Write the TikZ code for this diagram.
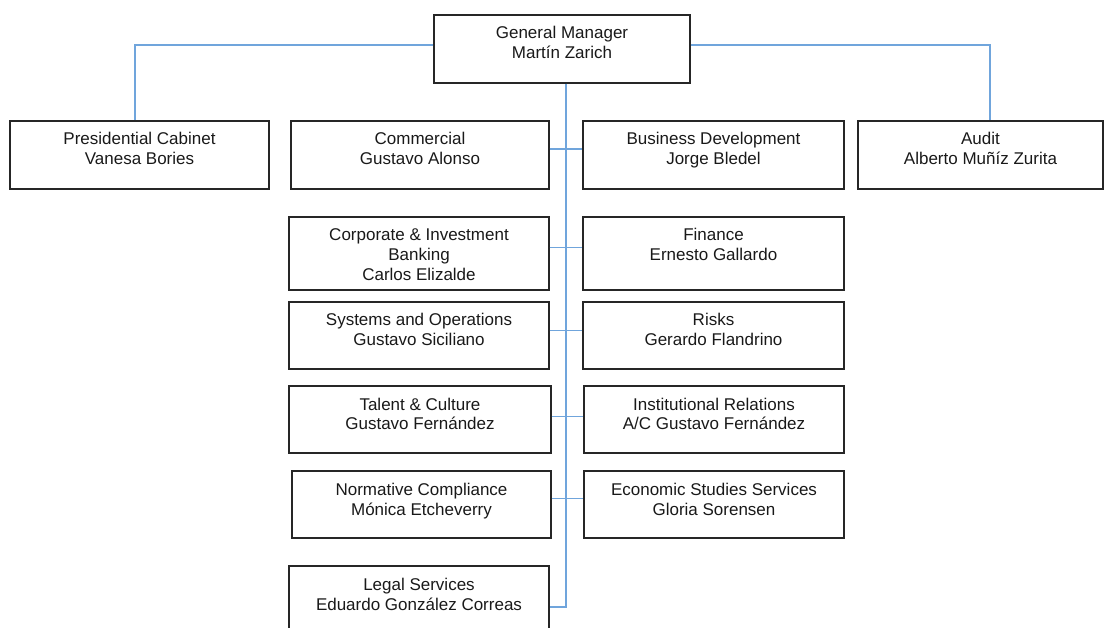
\documentclass[tikz,border=0pt]{standalone}
\usepackage{fontspec}
\setmainfont{Liberation Sans}
\definecolor{linkblue}{RGB}{112,165,220}
\tikzset{
  dept/.style={draw=black!85, line width=1.2pt, align=center, inner xsep=2pt, inner ysep=0pt,
    text=black!90, font=\fontsize{17}{20}\selectfont, text height=44pt, text depth=24pt},
  link/.style={draw=linkblue, line width=1.3pt}
}

\begin{document}
\begin{tikzpicture}[x=1pt,y=-1pt]
\useasboundingbox (0,0) rectangle (1104,628);
\clip (0,0) rectangle (1104,628);
% top
\node[dept, minimum width=256pt] (gm) at (562,49) {General Manager\\Martín Zarich};
% first row
\node[dept, minimum width=259pt] (pres) at (139.5,155) {Presidential Cabinet\\Vanesa Bories};
\node[dept, minimum width=258pt] (com) at (420,155) {Commercial\\Gustavo Alonso};
\node[dept, minimum width=261pt] (bd) at (713.5,155) {Business Development\\Jorge Bledel};
\node[dept, minimum width=245pt] (aud) at (980.5,155) {Audit\\Alberto Muñíz Zurita};
% left column
\node[dept, minimum width=260pt, text height=64pt, text depth=9pt] (cib) at (419,253.5) {Corporate \& Investment\\Banking\\Carlos Elizalde};
\node[dept, minimum width=260pt, text depth=23pt] (sys) at (419,335.5) {Systems and Operations\\Gustavo Siciliano};
\node[dept, minimum width=262pt, text depth=23pt] (tal) at (420,419.5) {Talent \& Culture\\Gustavo Fernández};
\node[dept, minimum width=259pt, text depth=23pt] (norm) at (421.5,504.5) {Normative Compliance\\Mónica Etcheverry};
\node[dept, minimum width=260pt, text depth=30pt] (legal) at (419,603) {Legal Services\\Eduardo González Correas};
% right column
\node[dept, minimum width=261pt, text depth=29pt] (fin) at (713.5,253.5) {Finance\\Ernesto Gallardo};
\node[dept, minimum width=261pt, text depth=23pt] (risk) at (713.5,335.5) {Risks\\Gerardo Flandrino};
\node[dept, minimum width=260pt, text depth=23pt] (inst) at (714,419.5) {Institutional Relations\\A/C Gustavo Fernández};
\node[dept, minimum width=260pt, text depth=23pt] (econ) at (714,504.5) {Economic Studies Services\\Gloria Sorensen};

% staff lines
\draw[link] ([yshift=4pt]gm.west) -| ([xshift=-4.5pt]pres.north);
\draw[link] ([yshift=4pt]gm.east) -| ([xshift=9.5pt]aud.north);
% spine
\coordinate (spine) at ([xshift=4pt]gm.south);
\draw[link, line width=1.6pt] (spine) |- ([yshift=-4pt]legal.east);
\foreach \l/\r/\s in {com/bd/6, cib/fin/6, sys/risk/5, tal/inst/3, norm/econ/6}
  \draw[link] ([yshift=\s pt]\l.east) -- ([yshift=\s pt]\r.west);
\end{tikzpicture}
\end{document}
